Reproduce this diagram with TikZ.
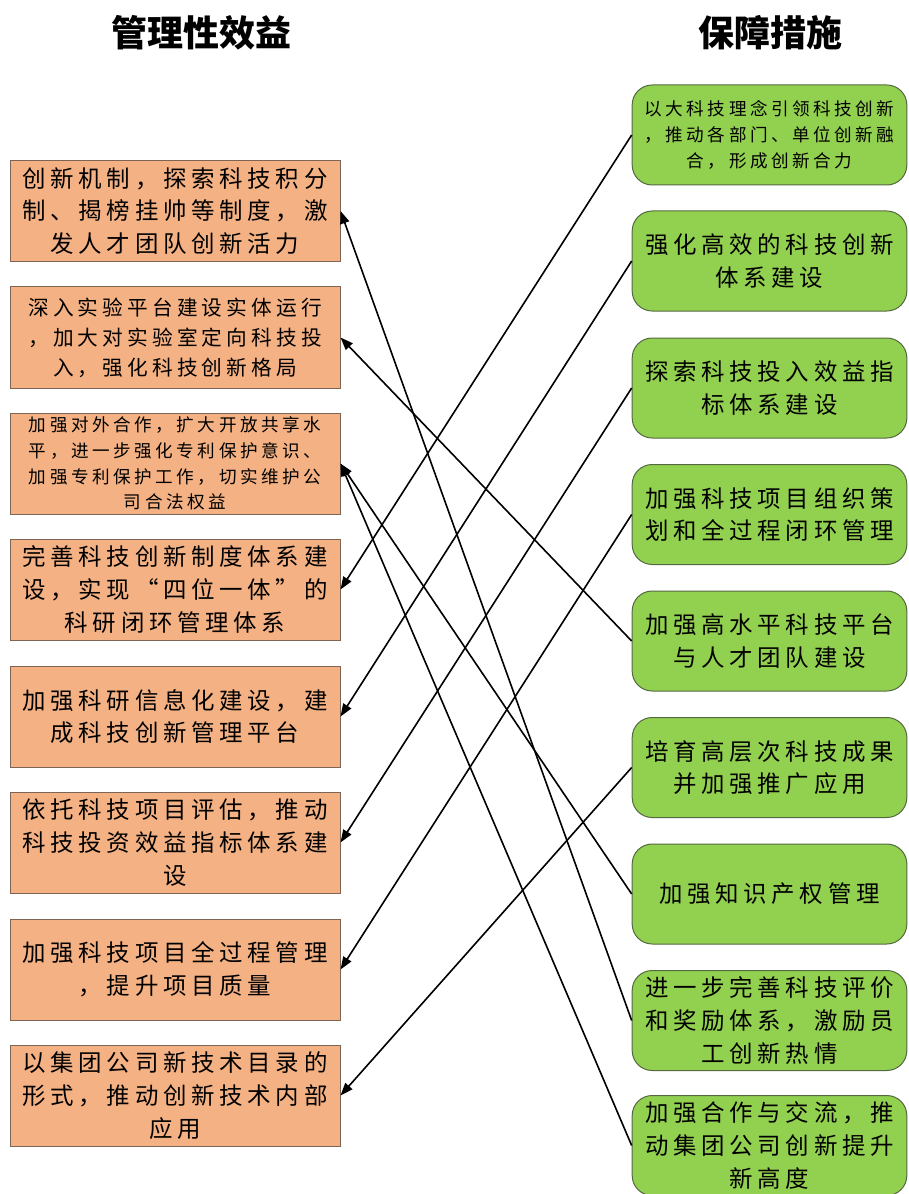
\documentclass[tikz,border=0pt]{standalone}
\usepackage{fontspec}
\setmainfont{Noto Sans CJK SC}[LetterSpace=20]
\newfontfamily\titlefont{Noto Sans CJK SC}
\usepackage{tikz}
\usetikzlibrary{arrows.meta}
\definecolor{boxorange}{RGB}{244,177,131}
\definecolor{edgeorange}{RGB}{125,100,85}
\definecolor{boxgreen}{RGB}{146,208,80}
\definecolor{edgegreen}{RGB}{85,105,65}
\newcommand{\txtbig}{\fontsize{17.6pt}{24.5pt}\selectfont}
\newcommand{\txtmid}{\fontsize{15.5pt}{22.5pt}\selectfont}
\newcommand{\txtsmall}{\fontsize{13.2pt}{19.2pt}\selectfont}
\tikzset{every picture/.style={line width=0.75pt}}
\tikzset{
  lbox/.style={draw=edgeorange, fill=boxorange, minimum width=247.5pt, minimum height=75.75pt, inner sep=0pt, align=center, font=\txtbig},
  rbox/.style={draw=edgegreen, fill=boxgreen, rounded corners=15pt, minimum width=206pt, minimum height=75pt, inner sep=0pt, align=center, font=\txtbig},
  heading/.style={font=\titlefont\bfseries\fontsize{27pt}{30pt}\selectfont},
  link/.style={line width=1.2pt, -{Triangle[length=9.5pt,width=7pt]}}
}
\begin{document}
\begin{tikzpicture}[x=0.75pt,y=0.75pt,yscale=-1,xscale=1]
\useasboundingbox (0,0) rectangle (908,1194);

% titles
\draw (201,33) node [heading] (tleft) {管理性效益};
\draw (770,33) node [heading] (tright) {保障措施};

% left column
\draw (175,211) node [lbox] (l1) {创新机制，探索科技积分\\制、揭榜挂帅等制度，激\\发人才团队创新活力};
\draw (175,337.5) node [lbox, font=\txtmid] (l2) {深入实验平台建设实体运行\\，加大对实验室定向科技投\\入，强化科技创新格局};
\draw (175,463.5) node [lbox, font=\txtsmall] (l3) {加强对外合作，扩大开放共享水\\平，进一步强化专利保护意识、\\加强专利保护工作，切实维护公\\司合法权益};
\draw (175,589.5) node [lbox] (l4) {完善科技创新制度体系建\\设，实现“四位一体”的\\科研闭环管理体系};
\draw (175,716.5) node [lbox] (l5) {加强科研信息化建设，建\\成科技创新管理平台};
\draw (175,842.5) node [lbox] (l6) {依托科技项目评估，推动\\科技投资效益指标体系建\\设};
\draw (175,969.5) node [lbox] (l7) {加强科技项目全过程管理\\，提升项目质量};
\draw (175,1095.5) node [lbox] (l8) {以集团公司新技术目录的\\形式，推动创新技术内部\\应用};

% right column
\draw (769.5,135) node [rbox, font=\txtsmall] (r1) {以大科技理念引领科技创新\\，推动各部门、单位创新融\\合，形成创新合力};
\draw (769.5,261) node [rbox] (r2) {强化高效的科技创新\\体系建设};
\draw (769.5,388) node [rbox] (r3) {探索科技投入效益指\\标体系建设};
\draw (769.5,514.5) node [rbox] (r4) {加强科技项目组织策\\划和全过程闭环管理};
\draw (769.5,641) node [rbox] (r5) {加强高水平科技平台\\与人才团队建设};
\draw (769.5,767.5) node [rbox] (r6) {培育高层次科技成果\\并加强推广应用};
\draw (769.5,894) node [rbox] (r7) {加强知识产权管理};
\draw (769.5,1020.5) node [rbox] (r8) {进一步完善科技评价\\和奖励体系，激励员\\工创新热情};
\draw (769.5,1145.5) node [rbox] (r9) {加强合作与交流，推\\动集团公司创新提升\\新高度};

% links
\draw [link] (r1.west) -- (l4.east);
\draw [link] (r2.west) -- (l5.east);
\draw [link] (r3.west) -- (l6.east);
\draw [link] (r4.west) -- (l7.east);
\draw [link] (r5.west) -- (l2.east);
\draw [link] (r6.west) -- (l8.east);
\draw [link] (r7.west) -- (l3.east);
\draw [link] (r8.west) -- (l1.east);
\draw [link] (r9.west) -- (l3.east);

\end{tikzpicture}
\end{document}
